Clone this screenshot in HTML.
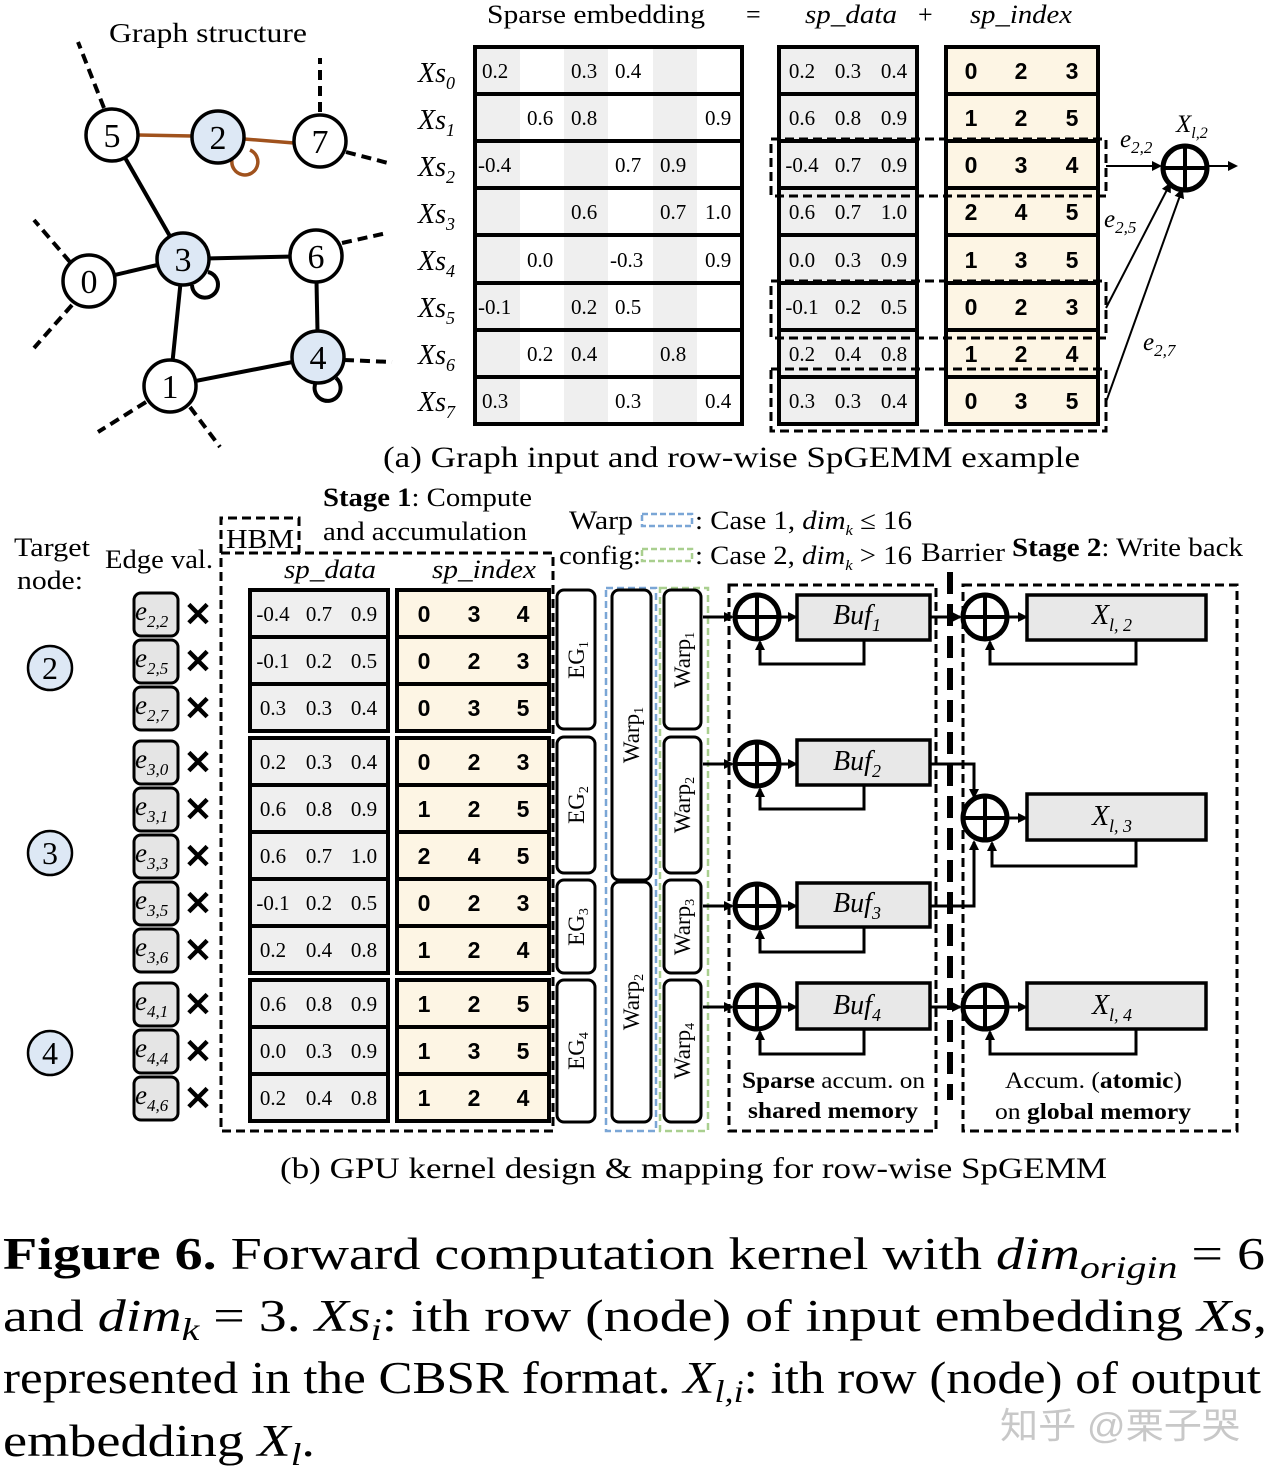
<!DOCTYPE html>
<html><head><meta charset="utf-8"><style>
html,body{margin:0;padding:0;background:#fff;}
svg{display:block;}
</style></head><body>
<svg width="1270" height="1476" viewBox="0 0 1270 1476" xmlns="http://www.w3.org/2000/svg" font-family="Liberation Serif, serif">
<defs>
<marker id="ar" markerWidth="10" markerHeight="10" refX="8" refY="5" orient="auto" markerUnits="userSpaceOnUse"><path d="M0,0 L10,5 L0,10 z" fill="#000"/></marker>
<g id="adder"><circle r="22" fill="#fff" stroke="#000" stroke-width="5"/><line x1="-22" y1="0" x2="22" y2="0" stroke="#000" stroke-width="4"/><line x1="0" y1="-22" x2="0" y2="22" stroke="#000" stroke-width="4"/></g>
</defs>

<!-- ===== Graph ===== -->
<text x="208" y="42" font-size="27" text-anchor="middle" textLength="198" lengthAdjust="spacingAndGlyphs">Graph structure</text>
<g stroke="#000" stroke-width="4" fill="none">
<line x1="112" y1="135" x2="183" y2="259"/>
<line x1="183" y1="259" x2="89" y2="281"/>
<line x1="183" y1="259" x2="316" y2="256"/>
<line x1="183" y1="259" x2="170" y2="386"/>
<line x1="316" y1="256" x2="318" y2="357"/>
<line x1="170" y1="386" x2="318" y2="357"/>
</g>
<g stroke="#000" stroke-width="4" fill="none" stroke-dasharray="10,6">
<line x1="104" y1="108" x2="78" y2="42"/>
<line x1="320" y1="112" x2="320" y2="58"/>
<line x1="346" y1="152" x2="388" y2="163"/>
<line x1="342" y1="243" x2="387" y2="233"/>
<line x1="70" y1="262" x2="34" y2="220"/>
<line x1="72" y1="305" x2="34" y2="348"/>
<line x1="344" y1="360" x2="392" y2="362"/>
<line x1="146" y1="402" x2="98" y2="432"/>
<line x1="190" y1="407" x2="220" y2="447"/>
</g>
<g stroke="#a0521d" stroke-width="3.5" fill="none">
<line x1="138" y1="135" x2="192" y2="136"/>
<line x1="244" y1="139" x2="294" y2="143"/>
<path d="M232,160 A13,13 0 1 0 250,150"/>
</g>
<path d="M192,285 A13,13 0 1 0 208,272" stroke="#000" stroke-width="4" fill="none"/>
<path d="M316,382 A13,13 0 1 0 336,378" stroke="#000" stroke-width="4" fill="none"/>
<g stroke="#000" stroke-width="3.5">
<circle cx="112" cy="135" r="26" fill="#fff"/>
<circle cx="218" cy="137" r="26" fill="#dde8f5"/>
<circle cx="320" cy="141" r="26" fill="#fff"/>
<circle cx="183" cy="259" r="26" fill="#dde8f5"/>
<circle cx="316" cy="256" r="26" fill="#fff"/>
<circle cx="89" cy="281" r="26" fill="#fff"/>
<circle cx="170" cy="386" r="26" fill="#fff"/>
<circle cx="318" cy="357" r="26" fill="#dde8f5"/>
</g>
<g font-size="34" text-anchor="middle">
<text x="112" y="147">5</text><text x="218" y="149">2</text><text x="320" y="153">7</text>
<text x="183" y="271">3</text><text x="316" y="268">6</text><text x="89" y="293">0</text>
<text x="170" y="398">1</text><text x="318" y="369">4</text>
</g>

<!-- ===== Sparse embedding header ===== -->
<text x="487" y="23" font-size="26" textLength="218" lengthAdjust="spacingAndGlyphs">Sparse  embedding</text>
<text x="746" y="23" font-size="26">=</text>
<text x="805" y="23" font-size="26" font-style="italic" textLength="92" lengthAdjust="spacingAndGlyphs">sp_data</text>
<text x="918" y="23" font-size="26">+</text>
<text x="970" y="23" font-size="26" font-style="italic" textLength="102" lengthAdjust="spacingAndGlyphs">sp_index</text>

<!-- left table shading -->
<g fill="#efefef">
<rect x="475" y="47" width="45" height="377"/>
<rect x="564" y="47" width="44" height="377"/>
<rect x="653" y="47" width="44" height="377"/>
</g>
<rect x="779" y="47" width="138" height="377" fill="#efefef"/>
<rect x="946" y="47" width="152" height="377" fill="#fdf5e4"/>
<g stroke="#000" stroke-width="4" fill="none">
<rect x="475" y="47" width="267" height="377"/>
<rect x="779" y="47" width="138" height="377"/>
<rect x="946" y="47" width="152" height="377"/>
<path d="M475,94H742M475,141H742M475,188H742M475,235H742M475,283H742M475,330H742M475,377H742"/>
<path d="M779,94H917M779,141H917M779,188H917M779,235H917M779,283H917M779,330H917M779,377H917"/>
<path d="M946,94H1098M946,141H1098M946,188H1098M946,235H1098M946,283H1098M946,330H1098M946,377H1098"/>
</g>
<g stroke="#000" stroke-width="3" fill="none" stroke-dasharray="9,5">
<rect x="771" y="139" width="335" height="57"/>
<rect x="771" y="281" width="335" height="57"/>
<rect x="771" y="369" width="335" height="62"/>
</g>
<!-- row labels -->
<g font-size="28" font-style="italic">
<text x="418" y="82">Xs<tspan font-size="18" dy="7">0</tspan></text>
<text x="418" y="129">Xs<tspan font-size="18" dy="7">1</tspan></text>
<text x="418" y="176">Xs<tspan font-size="18" dy="7">2</tspan></text>
<text x="418" y="223">Xs<tspan font-size="18" dy="7">3</tspan></text>
<text x="418" y="270">Xs<tspan font-size="18" dy="7">4</tspan></text>
<text x="418" y="317">Xs<tspan font-size="18" dy="7">5</tspan></text>
<text x="418" y="364">Xs<tspan font-size="18" dy="7">6</tspan></text>
<text x="418" y="411">Xs<tspan font-size="18" dy="7">7</tspan></text>
</g>
<g font-size="21">
<text x="482" y="78">0.2</text><text x="571" y="78">0.3</text><text x="615" y="78">0.4</text>
<text x="527" y="125">0.6</text><text x="571" y="125">0.8</text><text x="705" y="125">0.9</text>
<text x="478" y="172">-0.4</text><text x="615" y="172">0.7</text><text x="660" y="172">0.9</text>
<text x="571" y="219">0.6</text><text x="660" y="219">0.7</text><text x="705" y="219">1.0</text>
<text x="527" y="267">0.0</text><text x="610" y="267">-0.3</text><text x="705" y="267">0.9</text>
<text x="478" y="314">-0.1</text><text x="571" y="314">0.2</text><text x="615" y="314">0.5</text>
<text x="527" y="361">0.2</text><text x="571" y="361">0.4</text><text x="660" y="361">0.8</text>
<text x="482" y="408">0.3</text><text x="615" y="408">0.3</text><text x="705" y="408">0.4</text>
</g>
<g font-size="21" text-anchor="middle">
<text x="802" y="78">0.2</text><text x="848" y="78">0.3</text><text x="894" y="78">0.4</text>
<text x="802" y="125">0.6</text><text x="848" y="125">0.8</text><text x="894" y="125">0.9</text>
<text x="802" y="172">-0.4</text><text x="848" y="172">0.7</text><text x="894" y="172">0.9</text>
<text x="802" y="219">0.6</text><text x="848" y="219">0.7</text><text x="894" y="219">1.0</text>
<text x="802" y="267">0.0</text><text x="848" y="267">0.3</text><text x="894" y="267">0.9</text>
<text x="802" y="314">-0.1</text><text x="848" y="314">0.2</text><text x="894" y="314">0.5</text>
<text x="802" y="361">0.2</text><text x="848" y="361">0.4</text><text x="894" y="361">0.8</text>
<text x="802" y="408">0.3</text><text x="848" y="408">0.3</text><text x="894" y="408">0.4</text>
</g>
<g font-size="23" text-anchor="middle" font-family="Liberation Sans, sans-serif" font-weight="bold">
<text x="971" y="79">0</text><text x="1021" y="79">2</text><text x="1072" y="79">3</text>
<text x="971" y="126">1</text><text x="1021" y="126">2</text><text x="1072" y="126">5</text>
<text x="971" y="173">0</text><text x="1021" y="173">3</text><text x="1072" y="173">4</text>
<text x="971" y="220">2</text><text x="1021" y="220">4</text><text x="1072" y="220">5</text>
<text x="971" y="268">1</text><text x="1021" y="268">3</text><text x="1072" y="268">5</text>
<text x="971" y="315">0</text><text x="1021" y="315">2</text><text x="1072" y="315">3</text>
<text x="971" y="362">1</text><text x="1021" y="362">2</text><text x="1072" y="362">4</text>
<text x="971" y="409">0</text><text x="1021" y="409">3</text><text x="1072" y="409">5</text>
</g>
<!-- right adder -->
<g stroke="#000" stroke-width="2" fill="none">
<line x1="1106" y1="166" x2="1160" y2="166" marker-end="url(#ar)"/>
<line x1="1106" y1="308" x2="1170" y2="184" marker-end="url(#ar)"/>
<line x1="1106" y1="402" x2="1182" y2="190" marker-end="url(#ar)"/>
<line x1="1207" y1="166" x2="1236" y2="166" marker-end="url(#ar)"/>
</g>
<use href="#adder" x="1185" y="168"/>
<g font-size="25" font-style="italic">
<text x="1120" y="147">e<tspan font-size="17" dy="6">2,2</tspan></text>
<text x="1176" y="132">X<tspan font-size="16" dy="6">l,2</tspan></text>
<text x="1104" y="227">e<tspan font-size="17" dy="6">2,5</tspan></text>
<text x="1143" y="350">e<tspan font-size="17" dy="6">2,7</tspan></text>
</g>
<text x="383" y="467" font-size="30" textLength="697" lengthAdjust="spacingAndGlyphs">(a) Graph input and row-wise SpGEMM example</text>

<!-- ===== Part (b) ===== -->
<text x="52" y="556" font-size="26" text-anchor="middle" textLength="76" lengthAdjust="spacingAndGlyphs">Target</text>
<text x="50" y="589" font-size="26" text-anchor="middle" textLength="66" lengthAdjust="spacingAndGlyphs">node:</text>
<text x="105" y="568" font-size="26" textLength="108" lengthAdjust="spacingAndGlyphs">Edge val.</text>
<g stroke="#000" stroke-width="2.5" fill="#dde8f5">
<circle cx="50" cy="668" r="22"/><circle cx="50" cy="853" r="22"/><circle cx="50" cy="1053" r="22"/>
</g>
<g font-size="32" text-anchor="middle"><text x="50" y="679">2</text><text x="50" y="864">3</text><text x="50" y="1064">4</text></g>

<!-- e boxes -->
<g stroke="#000" stroke-width="3" fill="#e5e5e5">
<rect x="134" y="593" width="44" height="43" rx="7"/><rect x="134" y="640" width="44" height="43" rx="7"/><rect x="134" y="687" width="44" height="43" rx="7"/>
<rect x="134" y="741" width="44" height="43" rx="7"/><rect x="134" y="788" width="44" height="43" rx="7"/><rect x="134" y="835" width="44" height="43" rx="7"/><rect x="134" y="882" width="44" height="43" rx="7"/><rect x="134" y="929" width="44" height="43" rx="7"/>
<rect x="134" y="983" width="44" height="43" rx="7"/><rect x="134" y="1030" width="44" height="43" rx="7"/><rect x="134" y="1077" width="44" height="43" rx="7"/>
</g>
<g font-size="27" font-style="italic">
<text x="135" y="620">e<tspan font-size="17" dy="7">2,2</tspan></text>
<text x="135" y="667">e<tspan font-size="17" dy="7">2,5</tspan></text>
<text x="135" y="714">e<tspan font-size="17" dy="7">2,7</tspan></text>
<text x="135" y="768">e<tspan font-size="17" dy="7">3,0</tspan></text>
<text x="135" y="815">e<tspan font-size="17" dy="7">3,1</tspan></text>
<text x="135" y="862">e<tspan font-size="17" dy="7">3,3</tspan></text>
<text x="135" y="909">e<tspan font-size="17" dy="7">3,5</tspan></text>
<text x="135" y="956">e<tspan font-size="17" dy="7">3,6</tspan></text>
<text x="135" y="1010">e<tspan font-size="17" dy="7">4,1</tspan></text>
<text x="135" y="1057">e<tspan font-size="17" dy="7">4,4</tspan></text>
<text x="135" y="1104">e<tspan font-size="17" dy="7">4,6</tspan></text>
</g>
<g font-size="34" font-family="Liberation Sans, sans-serif" font-weight="bold" text-anchor="middle">
<text x="198" y="626">✕</text><text x="198" y="673">✕</text><text x="198" y="720">✕</text>
<text x="198" y="774">✕</text><text x="198" y="821">✕</text><text x="198" y="868">✕</text><text x="198" y="915">✕</text><text x="198" y="962">✕</text>
<text x="198" y="1016">✕</text><text x="198" y="1063">✕</text><text x="198" y="1110">✕</text>
</g>

<!-- HBM + big box -->
<g stroke="#000" stroke-width="3" fill="none" stroke-dasharray="9,5">
<path d="M221,553V518H299V553"/>
<rect x="221" y="553" width="332" height="578"/>
</g>
<text x="226" y="548" font-size="27" textLength="68" lengthAdjust="spacingAndGlyphs">HBM</text>
<text x="323" y="506" font-size="26" textLength="209" lengthAdjust="spacingAndGlyphs"><tspan font-weight="bold">Stage 1</tspan>: Compute</text>
<text x="323" y="540" font-size="26" textLength="204" lengthAdjust="spacingAndGlyphs">and accumulation</text>
<text x="284" y="578" font-size="26" font-style="italic" textLength="92" lengthAdjust="spacingAndGlyphs">sp_data</text>
<text x="432" y="578" font-size="26" font-style="italic" textLength="104" lengthAdjust="spacingAndGlyphs">sp_index</text>

<!-- tables bottom -->
<g fill="#efefef"><rect x="250" y="590" width="138" height="141"/><rect x="250" y="738" width="138" height="235"/><rect x="250" y="980" width="138" height="141"/></g>
<g fill="#fdf5e4"><rect x="397" y="590" width="152" height="141"/><rect x="397" y="738" width="152" height="235"/><rect x="397" y="980" width="152" height="141"/></g>
<g stroke="#000" stroke-width="4" fill="none">
<rect x="250" y="590" width="138" height="141"/><rect x="250" y="738" width="138" height="235"/><rect x="250" y="980" width="138" height="141"/>
<rect x="397" y="590" width="152" height="141"/><rect x="397" y="738" width="152" height="235"/><rect x="397" y="980" width="152" height="141"/>
<path d="M250,637H388M250,684H388M250,785H388M250,832H388M250,879H388M250,926H388M250,1027H388M250,1074H388"/>
<path d="M397,637H549M397,684H549M397,785H549M397,832H549M397,879H549M397,926H549M397,1027H549M397,1074H549"/>
</g>
<g font-size="21" text-anchor="middle">
<text x="273" y="621">-0.4</text><text x="319" y="621">0.7</text><text x="364" y="621">0.9</text>
<text x="273" y="668">-0.1</text><text x="319" y="668">0.2</text><text x="364" y="668">0.5</text>
<text x="273" y="715">0.3</text><text x="319" y="715">0.3</text><text x="364" y="715">0.4</text>
<text x="273" y="769">0.2</text><text x="319" y="769">0.3</text><text x="364" y="769">0.4</text>
<text x="273" y="816">0.6</text><text x="319" y="816">0.8</text><text x="364" y="816">0.9</text>
<text x="273" y="863">0.6</text><text x="319" y="863">0.7</text><text x="364" y="863">1.0</text>
<text x="273" y="910">-0.1</text><text x="319" y="910">0.2</text><text x="364" y="910">0.5</text>
<text x="273" y="957">0.2</text><text x="319" y="957">0.4</text><text x="364" y="957">0.8</text>
<text x="273" y="1011">0.6</text><text x="319" y="1011">0.8</text><text x="364" y="1011">0.9</text>
<text x="273" y="1058">0.0</text><text x="319" y="1058">0.3</text><text x="364" y="1058">0.9</text>
<text x="273" y="1105">0.2</text><text x="319" y="1105">0.4</text><text x="364" y="1105">0.8</text>
</g>
<g font-size="23" text-anchor="middle" font-family="Liberation Sans, sans-serif" font-weight="bold">
<text x="424" y="622">0</text><text x="474" y="622">3</text><text x="523" y="622">4</text>
<text x="424" y="669">0</text><text x="474" y="669">2</text><text x="523" y="669">3</text>
<text x="424" y="716">0</text><text x="474" y="716">3</text><text x="523" y="716">5</text>
<text x="424" y="770">0</text><text x="474" y="770">2</text><text x="523" y="770">3</text>
<text x="424" y="817">1</text><text x="474" y="817">2</text><text x="523" y="817">5</text>
<text x="424" y="864">2</text><text x="474" y="864">4</text><text x="523" y="864">5</text>
<text x="424" y="911">0</text><text x="474" y="911">2</text><text x="523" y="911">3</text>
<text x="424" y="958">1</text><text x="474" y="958">2</text><text x="523" y="958">4</text>
<text x="424" y="1012">1</text><text x="474" y="1012">2</text><text x="523" y="1012">5</text>
<text x="424" y="1059">1</text><text x="474" y="1059">3</text><text x="523" y="1059">5</text>
<text x="424" y="1106">1</text><text x="474" y="1106">2</text><text x="523" y="1106">4</text>
</g>

<!-- EG boxes -->
<g stroke="#000" stroke-width="3" fill="#fff">
<rect x="557" y="590" width="38" height="139" rx="7"/><rect x="557" y="737" width="38" height="136" rx="7"/><rect x="557" y="880" width="38" height="93" rx="7"/><rect x="557" y="980" width="38" height="142" rx="7"/>
</g>
<!-- warp config -->
<rect x="606" y="588" width="50" height="543" fill="none" stroke="#7aa6d6" stroke-width="2.5" stroke-dasharray="7,4"/>
<rect x="660" y="588" width="48" height="543" fill="none" stroke="#a9cf8f" stroke-width="2.5" stroke-dasharray="7,4"/>
<g stroke="#000" stroke-width="3" fill="#fff">
<rect x="612" y="590" width="39" height="290" rx="7"/><rect x="612" y="882" width="39" height="240" rx="7"/>
<rect x="664" y="590" width="37" height="139" rx="7"/><rect x="664" y="737" width="37" height="136" rx="7"/><rect x="664" y="880" width="37" height="93" rx="7"/><rect x="664" y="980" width="37" height="142" rx="7"/>
</g>
<g font-size="23" text-anchor="middle">
<text transform="translate(584,660) rotate(-90)">EG<tspan font-size="14" dy="4">1</tspan></text>
<text transform="translate(584,805) rotate(-90)">EG<tspan font-size="14" dy="4">2</tspan></text>
<text transform="translate(584,927) rotate(-90)">EG<tspan font-size="14" dy="4">3</tspan></text>
<text transform="translate(584,1051) rotate(-90)">EG<tspan font-size="14" dy="4">4</tspan></text>
<text transform="translate(639,735) rotate(-90)">Warp<tspan font-size="14" dy="4">1</tspan></text>
<text transform="translate(639,1002) rotate(-90)">Warp<tspan font-size="14" dy="4">2</tspan></text>
<text transform="translate(690,660) rotate(-90)">Warp<tspan font-size="14" dy="4">1</tspan></text>
<text transform="translate(690,805) rotate(-90)">Warp<tspan font-size="14" dy="4">2</tspan></text>
<text transform="translate(690,927) rotate(-90)">Warp<tspan font-size="14" dy="4">3</tspan></text>
<text transform="translate(690,1051) rotate(-90)">Warp<tspan font-size="14" dy="4">4</tspan></text>
</g>
<!-- legend -->
<text x="569" y="529" font-size="26" textLength="64" lengthAdjust="spacingAndGlyphs">Warp</text>
<rect x="642" y="514" width="50" height="12" fill="none" stroke="#7aa6d6" stroke-width="2.5" stroke-dasharray="6,3"/>
<text x="695" y="529" font-size="26" textLength="217" lengthAdjust="spacingAndGlyphs">: Case 1, <tspan font-style="italic">dim</tspan><tspan font-size="15" font-style="italic" dy="6">k</tspan><tspan dy="-6"> ≤ 16</tspan></text>
<text x="559" y="564" font-size="26" textLength="82" lengthAdjust="spacingAndGlyphs">config:</text>
<rect x="642" y="549" width="50" height="12" fill="none" stroke="#a9cf8f" stroke-width="2.5" stroke-dasharray="6,3"/>
<text x="695" y="564" font-size="26" textLength="217" lengthAdjust="spacingAndGlyphs">: Case 2, <tspan font-style="italic">dim</tspan><tspan font-size="15" font-style="italic" dy="6">k</tspan><tspan dy="-6"> &gt; 16</tspan></text>
<text x="921" y="561" font-size="26" textLength="84" lengthAdjust="spacingAndGlyphs">Barrier</text>
<text x="1012" y="556" font-size="26" textLength="231" lengthAdjust="spacingAndGlyphs"><tspan font-weight="bold">Stage 2</tspan>: Write back</text>

<!-- stage boxes -->
<g stroke="#000" stroke-width="3" fill="none" stroke-dasharray="9,5">
<rect x="729" y="585" width="207" height="546"/>
<rect x="963" y="585" width="274" height="546"/>
</g>
<line x1="950" y1="572" x2="950" y2="1100" stroke="#000" stroke-width="6" stroke-dasharray="22,10"/>

<!-- buffers -->
<g fill="#e8e8e8" stroke="#000" stroke-width="3.5">
<rect x="797" y="595" width="133" height="45"/><rect x="797" y="740" width="133" height="45"/><rect x="797" y="883" width="133" height="44"/><rect x="797" y="983" width="133" height="46"/>
<rect x="1027" y="595" width="179" height="45"/><rect x="1027" y="794" width="179" height="46"/><rect x="1027" y="983" width="179" height="46"/>
</g>
<g stroke="#000" stroke-width="3" fill="none">
<line x1="703" y1="617" x2="732" y2="617" marker-end="url(#ar)"/>
<line x1="703" y1="764" x2="732" y2="764" marker-end="url(#ar)"/>
<line x1="703" y1="906" x2="732" y2="906" marker-end="url(#ar)"/>
<line x1="703" y1="1007" x2="732" y2="1007" marker-end="url(#ar)"/>
<line x1="780" y1="617" x2="796" y2="617" marker-end="url(#ar)"/>
<line x1="780" y1="764" x2="796" y2="764" marker-end="url(#ar)"/>
<line x1="780" y1="906" x2="796" y2="906" marker-end="url(#ar)"/>
<line x1="780" y1="1007" x2="796" y2="1007" marker-end="url(#ar)"/>
<path d="M864,640V664H760V642" marker-end="url(#ar)"/>
<path d="M864,785V809H760V789" marker-end="url(#ar)"/>
<path d="M864,927V952H760V931" marker-end="url(#ar)"/>
<path d="M864,1029V1054H760V1032" marker-end="url(#ar)"/>
<line x1="930" y1="617" x2="960" y2="617" marker-end="url(#ar)"/>
<path d="M930,764H974V797" marker-end="url(#ar)"/>
<path d="M930,906H974V842" marker-end="url(#ar)"/>
<line x1="930" y1="1007" x2="960" y2="1007" marker-end="url(#ar)"/>
<line x1="1008" y1="617" x2="1026" y2="617" marker-end="url(#ar)"/>
<line x1="1008" y1="818" x2="1026" y2="818" marker-end="url(#ar)"/>
<line x1="1008" y1="1007" x2="1026" y2="1007" marker-end="url(#ar)"/>
<path d="M1136,640V664H990V642" marker-end="url(#ar)"/>
<path d="M1136,840V866H992V843" marker-end="url(#ar)"/>
<path d="M1136,1029V1054H990V1032" marker-end="url(#ar)"/>
</g>
<use href="#adder" x="757" y="617"/><use href="#adder" x="757" y="764"/><use href="#adder" x="757" y="906"/><use href="#adder" x="757" y="1007"/>
<use href="#adder" x="985" y="617"/><use href="#adder" x="985" y="818"/><use href="#adder" x="985" y="1007"/>
<g font-size="28" font-style="italic" text-anchor="middle">
<text x="857" y="624">Buf<tspan font-size="18" dy="7">1</tspan></text>
<text x="857" y="770">Buf<tspan font-size="18" dy="7">2</tspan></text>
<text x="857" y="912">Buf<tspan font-size="18" dy="7">3</tspan></text>
<text x="857" y="1014">Buf<tspan font-size="18" dy="7">4</tspan></text>
<text x="1112" y="624">X<tspan font-size="18" dy="7">l, 2</tspan></text>
<text x="1112" y="825">X<tspan font-size="18" dy="7">l, 3</tspan></text>
<text x="1112" y="1014">X<tspan font-size="18" dy="7">l, 4</tspan></text>
</g>
<text x="742" y="1088" font-size="23" textLength="183" lengthAdjust="spacingAndGlyphs"><tspan font-weight="bold">Sparse</tspan> accum. on</text>
<text x="748" y="1118" font-size="23" font-weight="bold" textLength="170" lengthAdjust="spacingAndGlyphs">shared memory</text>
<text x="1005" y="1088" font-size="23" textLength="177" lengthAdjust="spacingAndGlyphs">Accum. (<tspan font-weight="bold">atomic</tspan>)</text>
<text x="995" y="1119" font-size="23" textLength="196" lengthAdjust="spacingAndGlyphs">on <tspan font-weight="bold">global memory</tspan></text>
<text x="280" y="1178" font-size="30" textLength="827" lengthAdjust="spacingAndGlyphs">(b) GPU kernel design &amp; mapping for row-wise SpGEMM</text>

<!-- caption -->
<text x="3" y="1269" font-size="45" textLength="1262" lengthAdjust="spacingAndGlyphs"><tspan font-weight="bold">Figure 6.</tspan> Forward computation kernel with <tspan font-style="italic">dim</tspan><tspan font-style="italic" font-size="32" dy="9">origin</tspan><tspan dy="-9"> = 6</tspan></text>
<text x="3" y="1331" font-size="45" textLength="1264" lengthAdjust="spacingAndGlyphs">and <tspan font-style="italic">dim</tspan><tspan font-style="italic" font-size="32" dy="9">k</tspan><tspan dy="-9"> = 3. </tspan><tspan font-style="italic">Xs</tspan><tspan font-style="italic" font-size="32" dy="9">i</tspan><tspan dy="-9">: ith row (node) of input embedding </tspan><tspan font-style="italic">Xs</tspan>,</text>
<text x="3" y="1393" font-size="45" textLength="1258" lengthAdjust="spacingAndGlyphs">represented in the CBSR format. <tspan font-style="italic">X</tspan><tspan font-style="italic" font-size="32" dy="9">l,i</tspan><tspan dy="-9">: ith row (node) of output</tspan></text>
<text x="3" y="1456" font-size="45" textLength="312" lengthAdjust="spacingAndGlyphs">embedding <tspan font-style="italic">X</tspan><tspan font-style="italic" font-size="32" dy="9">l</tspan><tspan dy="-9">.</tspan></text>
<text x="1000" y="1438" font-size="36" fill="#c8c8c8" font-family="Liberation Sans, Noto Sans CJK SC, sans-serif" textLength="240" lengthAdjust="spacingAndGlyphs">知乎 @栗子哭</text>
</svg>
</body></html>
